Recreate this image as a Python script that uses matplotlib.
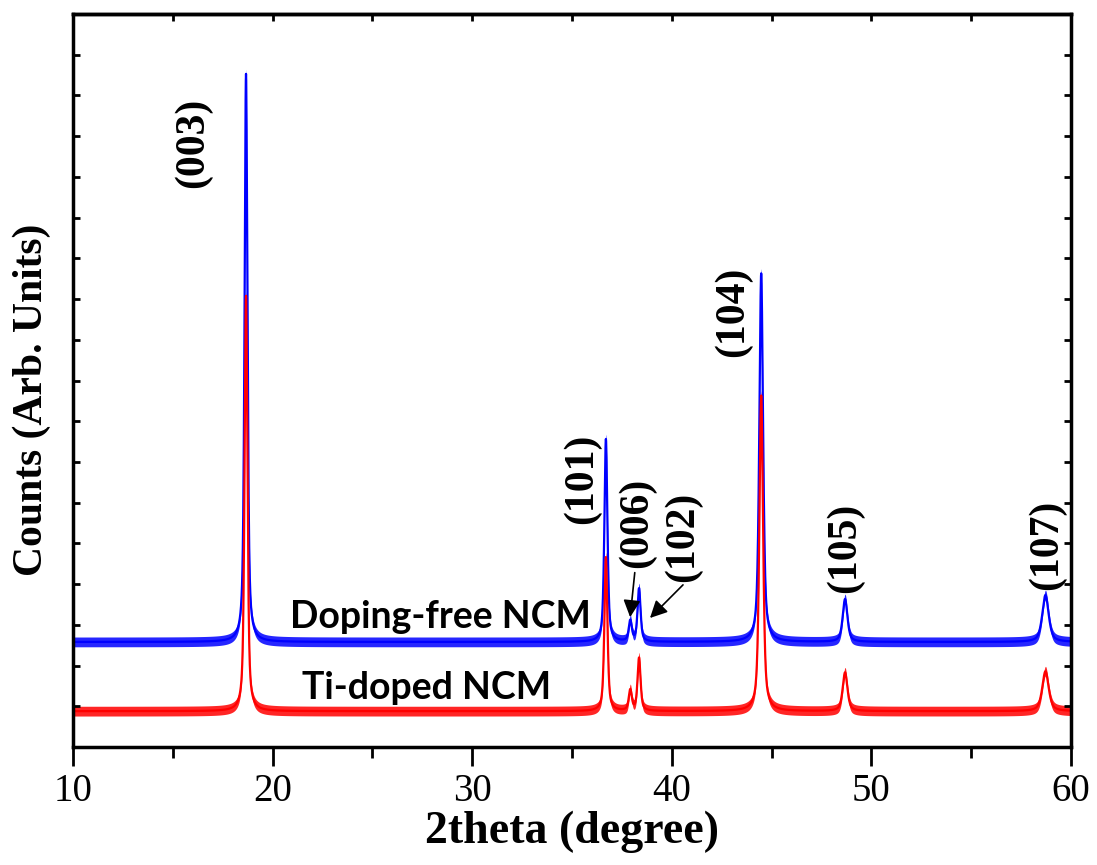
import numpy as np
import matplotlib.pyplot as plt

# Peak list read per hkl: position (2theta), height above baseline, FWHM
hkl = ['(003)', '(101)', '(006)', '(102)', '(104)', '(105)', '(107)']
pos = [18.67, 36.70, 37.92, 38.36, 44.48, 48.68, 58.72]
fwhm = [0.17, 0.18, 0.18, 0.18, 0.22, 0.28, 0.38]

free_base = 2.58
free_height = [13.95, 4.98, 0.5, 1.3, 9.05, 1.05, 1.15]
ti_base = 0.88
ti_height = [10.2, 3.78, 0.5, 1.3, 7.75, 0.95, 0.98]
noise_half = 0.12  # half-width of the counting-noise band
eta = 0.6          # Lorentzian fraction of the pseudo-Voigt profile

# label positions (data units)
lab_x = [16.0, 35.5, 38.26, 40.56, 43.07, 48.68, 58.8]
lab_y = [14.84, 6.58, 5.5, 5.16, 10.69, 4.89, 4.96]

two_theta = np.arange(10, 60.001, 0.01)


def pattern(base, heights):
    y = np.full_like(two_theta, base)
    for p, h, w in zip(pos, heights, fwhm):
        d = (two_theta - p) / (w / 2)
        lor = 1 / (1 + d ** 2)
        gau = np.exp(-np.log(2) * d ** 2)
        y += h * (eta * lor + (1 - eta) * gau)
    return y


plt.rcParams['font.family'] = 'Liberation Serif'
fig = plt.figure(figsize=(10.97, 8.65), dpi=100)
ax = fig.add_axes([0.0665, 0.1364, 0.9098, 0.8474])

for base, heights, col in [(free_base, free_height, 'blue'),
                           (ti_base, ti_height, 'red')]:
    y = pattern(base, heights)
    ax.fill_between(two_theta, y - noise_half, y + noise_half,
                    color=col, lw=0, alpha=0.85)
    ax.plot(two_theta, y, color=col, lw=1.6)

for t, x, y in zip(hkl, lab_x, lab_y):
    ax.text(x, y, t, rotation=90, ha='center', va='center',
            fontsize=30, fontweight='bold')

# arrows for the weak (006)/(102) doublet
ax.annotate('', xy=(37.9, 3.12), xytext=(38.16, 4.35),
            arrowprops=dict(arrowstyle='-|>', color='black', lw=1.2,
                            mutation_scale=26))
ax.annotate('', xy=(38.81, 3.12), xytext=(40.66, 4.03),
            arrowprops=dict(arrowstyle='-|>', color='black', lw=1.2,
                            mutation_scale=26))

ax.text(28.39, 3.2, 'Doping-free NCM', ha='center', va='center',
        fontsize=27, fontweight='bold', family='Lato')
ax.text(27.73, 1.45, 'Ti-doped NCM', ha='center', va='center',
        fontsize=27, fontweight='bold', family='Lato')

ax.set_xlim(10, 60)
ax.set_ylim(0, 18)
ax.set_xticks(np.arange(10, 61, 10))
ax.set_xticks(np.arange(15, 60, 10), minor=True)
ax.set_yticks(np.arange(0, 19, 1))
ax.set_yticklabels([])
ax.tick_params(axis='x', which='major', direction='out', length=14,
               width=2, labelsize=28, pad=5, top=False)
ax.tick_params(axis='x', which='minor', direction='out', length=8,
               width=2, top=False)
ax.tick_params(axis='y', direction='in', length=5, width=2,
               left=True, right=True)
sec = ax.secondary_xaxis('top')
sec.set_xticks(np.arange(10, 61, 5))
sec.set_xticklabels([])
sec.tick_params(direction='in', length=5, width=2)
for s in ax.spines.values():
    s.set_linewidth(2.5)
sec.spines['top'].set_linewidth(2.5)

ax.set_xlabel('2theta (degree)', fontsize=33, fontweight='bold', labelpad=0)
ax.set_ylabel('Counts (Arb. Units)', fontsize=30, fontweight='bold')
ax.yaxis.set_label_coords(-0.022, 0.473)

fig.savefig('out.png', dpi=100)
